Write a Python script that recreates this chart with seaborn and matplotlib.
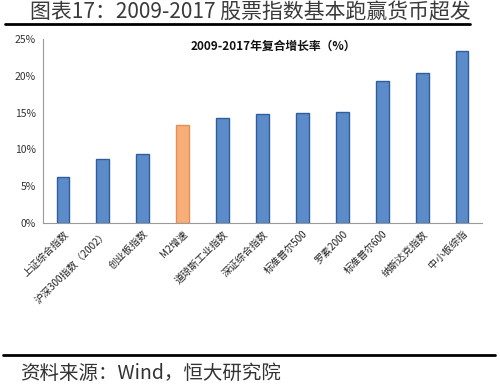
import matplotlib
matplotlib.use("Agg")
import matplotlib.pyplot as plt
import seaborn as sns
import pandas as pd
from matplotlib.ticker import PercentFormatter, FixedLocator

categories = ["上证综合指数", "沪深300指数（2002）", "创业板指数", "M2增速", "道琼斯工业指数",
              "深证综合指数", "标准普尔500", "罗素2000", "标准普尔600", "纳斯达克指数", "中小板综指"]
values = [6.3, 8.65, 9.4, 13.35, 14.3, 14.8, 15.0, 15.1, 19.3, 20.4, 23.4]
colors = ["#5B8BC9", "#5B8BC9", "#5B8BC9", "#F7AE78", "#5B8BC9", "#5B8BC9",
          "#5B8BC9", "#5B8BC9", "#5B8BC9", "#5B8BC9", "#5B8BC9"]
edges = ["#2F5E9E", "#2F5E9E", "#2F5E9E", "#E58F55", "#2F5E9E", "#2F5E9E",
         "#2F5E9E", "#2F5E9E", "#2F5E9E", "#2F5E9E", "#2F5E9E"]
y_ticks = [0, 5, 10, 15, 20, 25]

title = "图表17：2009-2017 股票指数基本跑赢货币超发"
subtitle = "2009-2017年复合增长率（%）"
source = "资料来源：Wind，恒大研究院"

sns.set_style("white")
plt.rcParams["font.family"] = ["Noto Sans CJK SC", "DejaVu Sans"]

df = pd.DataFrame({"cat": categories, "val": values})

fig = plt.figure(figsize=(5.0, 3.86), dpi=100)
ax = fig.add_axes([0.086, 0.422, 0.878, 0.477])
sns.barplot(data=df, x="cat", y="val", hue="cat", palette=colors, legend=False,
            width=0.32, ax=ax, saturation=1)
for patch, ec in zip(ax.patches, edges):
    patch.set_edgecolor(ec)
    patch.set_linewidth(1.0)

ax.set_ylim(0, 25)
ax.set_xlim(-0.5, len(categories) - 0.5)
ax.yaxis.set_major_locator(FixedLocator(y_ticks))
ax.yaxis.set_major_formatter(PercentFormatter(decimals=0))
ax.set_xlabel("")
ax.set_ylabel("")
for s in ["top", "right"]:
    ax.spines[s].set_visible(False)
for s in ["left", "bottom"]:
    ax.spines[s].set_color("#9A9A9A")
    ax.spines[s].set_linewidth(0.8)
ax.tick_params(axis="y", length=3, color="#9A9A9A", labelsize=7.5, labelcolor="#333333", pad=2)
ax.tick_params(axis="x", which="major", length=0, labelsize=7.2, labelcolor="#222222", pad=4)
ax.set_xticks([i - 0.5 for i in range(len(categories) + 1)], minor=True)
ax.tick_params(axis="x", which="minor", length=3, color="#9A9A9A")
ax.set_xticks(range(len(categories)))
ax.set_xticklabels(categories, rotation=45, ha="right", rotation_mode="anchor")

ax.text(0.525, 0.96, subtitle, transform=ax.transAxes, ha="center", va="center",
        fontsize=8.5, fontweight="bold", color="#111111")

fig.text(0.06, 0.967, title, ha="left", va="center", fontsize=15, color="#3A3A3A")
fig.add_artist(plt.Line2D([0.01, 0.94], [0.937, 0.937], color="black", lw=2, transform=fig.transFigure))
fig.add_artist(plt.Line2D([0.006, 0.99], [0.08, 0.08], color="black", lw=2, transform=fig.transFigure))
fig.text(0.04, 0.033, source, ha="left", va="center", fontsize=14, style="italic", color="#333333")

fig.savefig("out.png", dpi=100)
